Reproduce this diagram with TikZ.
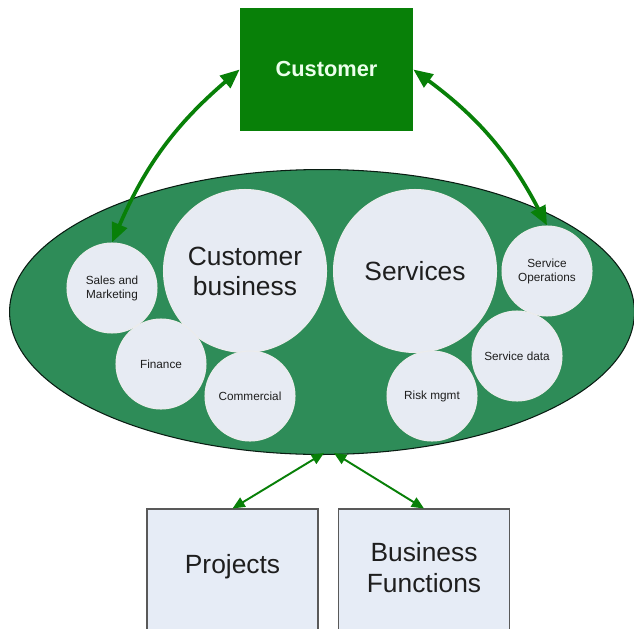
\documentclass[tikz,border=0pt]{standalone}
\usepackage{fontspec}
\setmainfont{Liberation Sans}
\usetikzlibrary{shapes.geometric,arrows.meta}
\definecolor{custgreen}{RGB}{8,128,8}
\definecolor{ellgreen}{RGB}{46,140,88}
\definecolor{circfill}{RGB}{231,235,243}
\definecolor{boxfill}{RGB}{230,236,246}
\definecolor{txt}{RGB}{30,30,30}
\tikzset{
  bubble/.style={circle, fill=circfill, draw=white!85!gray, line width=0.6pt, inner sep=0pt, align=center, text=txt},
  small/.style={bubble, minimum size=1.8cm, font=\fontsize{6.7}{8}\selectfont},
  big/.style={bubble, minimum size=3.26cm, font=\fontsize{15}{17}\selectfont},
  lowbox/.style={rectangle, fill=boxfill, draw=black!65, line width=0.6pt, minimum width=3.42cm, minimum height=3.02cm, inner sep=0pt, align=center, text=txt, font=\fontsize{15}{17.6}\selectfont},
  toparrow/.style={custgreen, line width=2.1pt, {Triangle[length=11pt,width=9pt]}-{Triangle[length=11pt,width=9pt]}},
  botarrow/.style={custgreen, line width=1.1pt, {Triangle[length=7pt,width=6pt]}-{Triangle[length=7pt,width=6pt]}}
}
\begin{document}
\begin{tikzpicture}[x=0.02cm,y=-0.02cm]
\useasboundingbox (0,0) rectangle (634,628);
\clip (0,0) rectangle (634,628);
\fill[white] (0,0) rectangle (634,628);
% main ellipse
\node[ellipse, fill=ellgreen, draw=black!80!ellgreen, line width=0.6pt, minimum width=12.5cm, minimum height=5.7cm, inner sep=0pt] (ell) at (322,312) {};
% customer box
\node[rectangle, fill=custgreen, minimum width=3.46cm, minimum height=2.46cm, inner sep=0pt,
      text=green!8!white, font=\bfseries\fontsize{12.4}{14}\selectfont] (cust) at (326.5,69.5) {Customer};
% bubbles
\node[big] (cb) at (245,271) {Customer\\business};
\node[big] (serv) at (415,271) {Services};
\node[small] (sales) at (112,288) {Sales and\\Marketing};
\node[small] (servop) at (547,271) {Service\\Operations};
\node[small] (fin) at (161,364) {Finance};
\node[small] (comm) at (250,396) {Commercial};
\node[small] (risk) at (432,396) {Risk mgmt};
\node[small] (sdata) at (517,356) {Service data};
% bottom boxes (extend past the lower edge)
\node[lowbox] (proj) at (232.5,584.5) {\raisebox{0.83cm}{Projects}};
\node[lowbox] (bf) at (424,584.5) {\raisebox{1.07cm}{\parbox{3cm}{\centering Business\\Functions}}};
% arrows
\draw[toparrow] (cust.west) to[bend right=13] (sales.north);
\draw[toparrow] (cust.east) to[bend left=13] (servop.north);
\coordinate (ebl) at (324,453);
\coordinate (ebr) at (334,453);
\draw[botarrow] (ebl) -- (proj.north);
\draw[botarrow] (ebr) -- (bf.north);
\end{tikzpicture}
\end{document}
